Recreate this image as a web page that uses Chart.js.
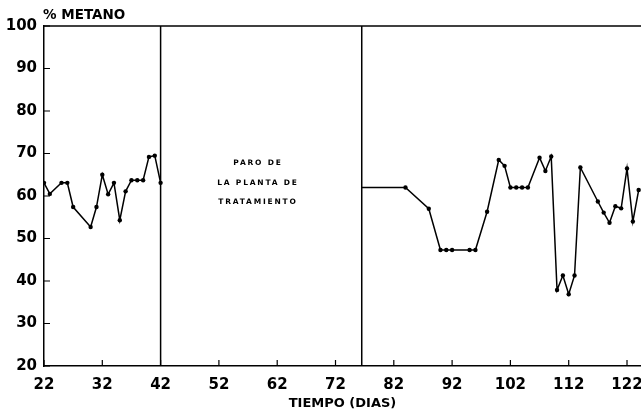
<!DOCTYPE html>
<html><head><meta charset="utf-8">
<script src="https://cdn.jsdelivr.net/npm/chart.js@4/dist/chart.umd.min.js"></script>
<style>html,body{margin:0;padding:0;background:#fff}#wrap{width:641px;height:415px;position:relative}</style>
</head><body><div id="wrap"><canvas id="c" width="641" height="415"></canvas></div>
<script>
// ---- data ----
const daysA   = [22, 23, 25, 26, 27, 30, 31, 32, 33, 34, 35, 36, 37, 38, 39, 40, 41, 42];
const valuesA = [63.1, 60.5, 63.1, 63.1, 57.4, 52.7, 57.4, 65.0, 60.4, 63.1, 54.3, 61.1, 63.7, 63.7, 63.7, 69.2, 69.5, 63.1];
const daysB   = [76.5, 84, 88, 90, 91, 92, 95, 96, 98, 100, 101, 102, 103, 104, 105, 107, 108, 109, 110, 111, 112, 113, 114, 117, 118, 119, 120, 121, 122, 123, 124];
const valuesB = [62.0, 62.0, 57.0, 47.3, 47.3, 47.3, 47.3, 47.3, 56.3, 68.5, 67.1, 62.0, 62.0, 62.0, 62.0, 69.0, 65.9, 69.3, 37.9, 41.3, 36.9, 41.3, 66.7, 58.7, 56.1, 53.7, 57.6, 57.1, 66.5, 54.0, 61.4];
const xTicks  = [22, 32, 42, 52, 62, 72, 82, 92, 102, 112, 122];
const yTicks  = [20, 30, 40, 50, 60, 70, 80, 90, 100];
const shutdownStart = 42;
const shutdownEnd = 76.5;
const noteLines = ['PARO DE', 'LA PLANTA DE', 'TRATAMIENTO'];
const noteX = 58.7;
const noteY = [67.7, 63.0, 58.5];
const yTitle = '% METANO';
const xTitle = 'TIEMPO (DIAS)';

const FONT = "'DejaVu Sans', sans-serif";
const toPts = (xs, ys) => xs.map((x, i) => ({x: x, y: ys[i]}));

const framePlugin = {
  id: 'frame',
  afterDraw(chart) {
    const ctx = chart.ctx, ca = chart.chartArea;
    const xs = chart.scales.x, ys = chart.scales.y;
    ctx.save();
    ctx.strokeStyle = '#000';
    ctx.lineWidth = 1.5;
    // top border
    ctx.beginPath();
    ctx.moveTo(ca.left, ca.top);
    ctx.lineTo(ca.right, ca.top);
    ctx.stroke();
    // inward tick marks
    ctx.lineWidth = 1.2;
    ctx.beginPath();
    xTicks.forEach(v => {
      const px = xs.getPixelForValue(v);
      ctx.moveTo(px, ca.bottom);
      ctx.lineTo(px, ca.bottom - 6);
    });
    yTicks.forEach(v => {
      const py = ys.getPixelForValue(v);
      ctx.moveTo(ca.left, py);
      ctx.lineTo(ca.left + 6, py);
    });
    ctx.stroke();
    // note text
    ctx.fillStyle = '#000';
    ctx.font = "bold 7.5px " + FONT;
    ctx.textAlign = 'center';
    ctx.textBaseline = 'middle';
    if ('letterSpacing' in ctx) ctx.letterSpacing = '1.8px';
    noteLines.forEach((t, i) => {
      ctx.fillText(t, xs.getPixelForValue(noteX), ys.getPixelForValue(noteY[i]));
    });
    if ('letterSpacing' in ctx) ctx.letterSpacing = '0px';
    // y title
    ctx.font = "bold 13.5px " + FONT;
    ctx.textAlign = 'left';
    ctx.textBaseline = 'alphabetic';
    ctx.fillText(yTitle, 43, 18.5);
    ctx.restore();
  }
};

new Chart(document.getElementById('c'), {
  type: 'line',
  data: {
    datasets: [
      {
        data: toPts(daysA, valuesA),
        borderColor: '#000', backgroundColor: '#000', borderWidth: 1.5,
        pointRadius: 2.2, pointBackgroundColor: '#000', pointBorderWidth: 0,
        tension: 0, fill: false
      },
      {
        data: toPts(daysB, valuesB),
        borderColor: '#000', backgroundColor: '#000', borderWidth: 1.5,
        pointRadius: daysB.map((d, i) => i === 0 ? 0 : 2.2),
        pointBackgroundColor: '#000', pointBorderWidth: 0,
        tension: 0, fill: false
      },
      {
        data: [{x: shutdownStart, y: 20}, {x: shutdownStart, y: 100}],
        borderColor: '#000', borderWidth: 1.5, pointRadius: 0, fill: false
      },
      {
        data: [{x: shutdownEnd, y: 20}, {x: shutdownEnd, y: 100}],
        borderColor: '#000', borderWidth: 1.5, pointRadius: 0, fill: false
      }
    ]
  },
  options: {
    responsive: false,
    animation: false,
    devicePixelRatio: 1,
    layout: {autoPadding: false, padding: {top: 26, left: 0, right: 0, bottom: 0}},
    plugins: {legend: {display: false}, tooltip: {enabled: false}},
    scales: {
      x: {
        type: 'linear',
        min: 22, max: 124.4,
        afterBuildTicks: s => { s.ticks = xTicks.map(v => ({value: v})); },
        afterFit: s => { s.height = 49; s.paddingLeft = 0; s.paddingRight = 0; },
        grid: {display: false, drawTicks: false},
        border: {display: true, color: '#000', width: 1.5},
        ticks: {
          color: '#000', padding: 10, maxRotation: 0, autoSkip: false,
          font: {family: FONT, weight: 'bold', size: 15},
          callback: v => String(v)
        },
        title: {
          display: true, text: xTitle, color: '#000',
          font: {family: FONT, weight: 'bold', size: 13},
          padding: {top: 0, bottom: 4}
        }
      },
      y: {
        min: 20, max: 100,
        afterBuildTicks: s => { s.ticks = yTicks.map(v => ({value: v})); },
        afterFit: s => { s.width = 44; s.paddingTop = 0; s.paddingBottom = 0; },
        grid: {display: false, drawTicks: false},
        border: {display: true, color: '#000', width: 1.5},
        ticks: {
          color: '#000', padding: 7,
          font: {family: FONT, weight: 'bold', size: 15}
        }
      }
    }
  },
  plugins: [framePlugin]
});
</script>
</body></html>
